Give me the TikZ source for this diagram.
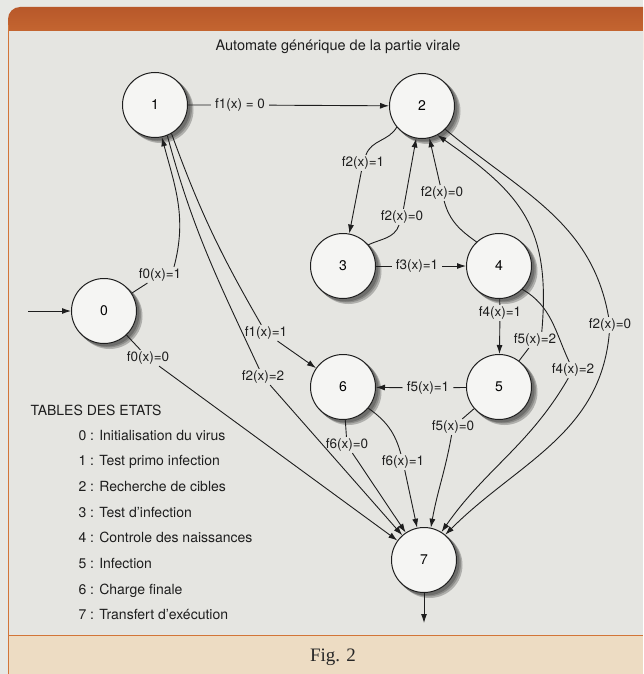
\documentclass[tikz,border=0pt]{standalone}
\usepackage{fontspec}
\setmainfont{TeX Gyre Heros}
\newfontfamily\figfont{Liberation Serif}
\usepackage{tikz}
\usetikzlibrary{positioning, arrows.meta}

\definecolor{pagegray}{HTML}{E7E8E4}
\definecolor{panelgray}{HTML}{E5E5E1}
\definecolor{bartop}{HTML}{B8582A}
\definecolor{barbottom}{HTML}{D27538}
\definecolor{beige}{HTML}{EDDCC3}
\definecolor{statefill}{HTML}{F5F5F3}
\definecolor{inkgray}{HTML}{1E1E1E}
\definecolor{shadowgray}{HTML}{6E6E6C}

\begin{document}
\begin{tikzpicture}[
    x=1pt, y=1pt,
    on grid,
    state/.style={
        circle,
        draw=inkgray,
        line width=1pt,
        fill=statefill,
        minimum size=65pt,
        inner sep=0pt,
        font=\fontsize{14}{16}\selectfont
    },
    lab/.style={
        inner xsep=4pt,
        inner ysep=1.5pt,
        text=inkgray,
        font=\fontsize{13.5}{15}\selectfont
    },
    legend/.style={anchor=base west, text=inkgray, font=\fontsize{14}{16}\selectfont},
    line/.style={draw=inkgray, line width=0.9pt, -{Latex[length=9pt, width=6pt]}}
]

% page and frame
\clip (0,0) rectangle (643,-674);
\fill[pagegray] (0,0) rectangle (643,-674);
\shade[top color=bartop, bottom color=barbottom, rounded corners=12pt] (8,-60) rectangle (680,-7);
\fill[panelgray] (9,-31) rectangle (643,-635);
\fill[beige] (9,-635) rectangle (643,-674);
\draw[barbottom, line width=1pt] (8.5,-25) -- (8.5,-674);
\draw[barbottom, line width=0.8pt] (9,-635) -- (643,-635);

\node (title) at (338,-47) [text=inkgray, font=\fontsize{14.5}{16}\selectfont] {Automate générique de la partie virale};

% soft shadows under the states
\foreach \sx/\sy in {104/311, 155/105, 422/106, 343/266, 499/266, 499/387, 343/387, 424/560} {
  \fill[panelgray!55!shadowgray] (\sx+5.5,-\sy-5) circle (33);
  \fill[panelgray!25!shadowgray] (\sx+4,-\sy-3.5) circle (33);
  \fill[shadowgray] (\sx+2.5,-\sy-2.5) circle (33);
}

% states
\node (s0) [state] at (104,-311) {0};
\node (s1) [state] at (155,-105) {1};
\node (s2) [state] at (422,-106) {2};
\node (s3) [state] at (343,-266) {3};
\node (s4) [state, right=156pt of s3] {4};
\node (s5) [state, below=121pt of s4] {5};
\node (s6) [state, left=156pt of s5] {6};
\node (s7) [state] at (424,-560) {7};

\coordinate (entry) at (28,-311);
\coordinate (exit) at (424,-623);

% transition labels
\node (l01) [lab] at (160,-275) {f0(x)=1};
\node (l07) [lab] at (148,-358) {f0(x)=0};
\node (l12) [lab] at (240,-105) {f1(x) = 0};
\node (l16) [lab] at (266,-333) {f1(x)=1};
\node (l17) [lab] at (263,-377) {f2(x)=2};
\node (l23) [lab] at (363,-163) {f2(x)=1};
\node (l32) [lab] at (402,-217) {f2(x)=0};
\node (l34) [lab] at (417,-266) {f3(x)=1};
\node (l42) [lab] at (442,-193) {f2(x)=0};
\node (l45) [lab] at (500,-313) {f4(x)=1};
\node (l52) [lab] at (535,-340) {f5(x)=2};
\node (l27) [lab] at (610,-325) {f2(x)=0};
\node (l47) [lab] at (573,-370) {f4(x)=2};
\node (l56) [lab] at (428,-388) {f5(x)=1};
\node (l57) [lab] at (453,-427) {f5(x)=0};
\node (l67a) [lab] at (347,-445) {f6(x)=0};
\node (l67b) [lab] at (403,-462) {f6(x)=1};

% transitions
\path [line] (entry) -- (s0);
\path [line] (s0) -- (l01) (l01.30) to[out=75, in=-75] (s1.-78);
\path [line] (s0) -- (l07) -- (s7);
\path [line] (s1) -- (l12) -- (s2);
\path [line] (s1.-60) to[out=-70, in=120] (l16) -- (s6);
\path [line] (s1.-68) to[out=-75, in=115] (l17) -- (s7);
\path [line] (s2.-140) to[out=-120, in=70] (l23) -- (s3);
\path [line] (s3.40) to[out=25, in=-110] (l32) -- (s2);
\path [line] (s3) -- (l34) -- (s4);
\path [line] (s4.133) to[out=145, in=-75] (l42) -- (s2);
\path [line] (s4) -- (l45) -- (s5);
\path [line] (s5) -- (l52) (l52.50) to[out=85, in=-35, looseness=1.2] (s2.-62);
\path [line] (s2.-45) to[out=-40, in=100] (l27) to[out=-95, in=45] (s7.50);
\path [line] (s4.-45) to[out=-30, in=115] (l47) to[out=-120, in=55] (s7.58);
\path [line] (s5) -- (l56) -- (s6);
\path [line] (s5) -- (l57) to[out=-100, in=80] (s7.78);
\path [line] (s6) -- (l67a) -- (s7);
\path [line] (s6.-40) to[out=-35, in=105] (l67b) -- (s7);
\path [line] (s7) -- (exit);

% table of states
\node (tables) [legend] at (27,-415) {TABLES DES ETATS};
\foreach \num/\name in {0/Initialisation du virus, 1/Test primo infection,
    2/Recherche de cibles, 3/Test d'infection, 4/Controle des naissances,
    5/Infection, 6/Charge finale, 7/Transfert d'exécution}
  \node (e\num) [legend] at (75,{-440-25.7*\num}) {\num\ : \name};

\node (fig) at (333,-657) [text=black!85, font=\figfont\fontsize{19}{21}\selectfont] {Fig. 2};

\end{tikzpicture}
\end{document}
